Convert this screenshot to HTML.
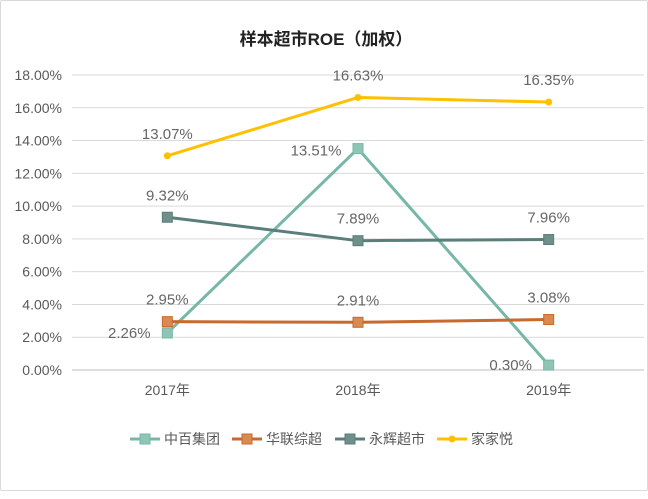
<!DOCTYPE html>
<html><head><meta charset="utf-8"><style>
body{margin:0;background:#fff;}
#wrap{position:relative;width:648px;height:499px;background:#fff;}
#frame{position:absolute;left:0;top:0;width:646px;height:489px;border:1px solid #d9d9d9;border-radius:2px;}
svg{position:absolute;left:0;top:0;}
text{font-family:"Liberation Sans","Noto Sans CJK SC",sans-serif;}
</style></head><body>
<div id="wrap">
<div id="frame"></div>
<svg id="chart" width="648" height="499">
<text x="326" y="45" text-anchor="middle" font-size="17" font-weight="bold" fill="#222">样本超市ROE（加权）</text>
</svg>
</div>
<script>
const categories=["2017年","2018年","2019年"];
const seriesNames=["中百集团","华联综超","永辉超市","家家悦"];
const zhongbai=[2.26,13.51,0.30];
const hualian=[2.95,2.91,3.08];
const yonghui=[9.32,7.89,7.96];
const jiajiayue=[13.07,16.63,16.35];
const yTicks=[0,2,4,6,8,10,12,14,16,18];
const svg=document.getElementById('chart');
const NS='http://www.w3.org/2000/svg';
const x0=72,x1=644,yBase=370,yTop=75,yMax=18;
const xs=i=>x0+(x1-x0)*(i+0.5)/categories.length;
const ys=v=>yBase-(yBase-yTop)*v/yMax;
function mk(t,a){const e=document.createElementNS(NS,t);for(const k in a)e.setAttribute(k,a[k]);svg.appendChild(e);return e;}
yTicks.forEach(t=>{
 const g=mk('line',{x1:x0,x2:x1,y1:ys(t),y2:ys(t),stroke:t===0?'#bfbfbf':'#d9d9d9','stroke-width':1});
 
 
 const l=mk('text',{x:62,y:ys(t)+5,'text-anchor':'end','font-size':14,fill:'#595959'});
 l.textContent=t.toFixed(2)+'%';
 
 
});
categories.forEach((c,i)=>{
 const l=mk('text',{x:xs(i),y:395,'text-anchor':'middle','font-size':14,fill:'#595959'});
 l.textContent=c;
 
 
});
const series=[
 {d:zhongbai,c:'#76b7a8',f:'#8fc5b4',m:'sq',lab:[[-38,0],[-42,2],[-38,0]]},
 {d:hualian,c:'#c8692d',f:'#d88a50',m:'sq',lab:[[0,-22],[0,-22],[0,-22]]},
 {d:yonghui,c:'#5a7f7b',f:'#6f8f8b',m:'sq',lab:[[0,-22],[0,-22],[0,-22]]},
 {d:jiajiayue,c:'#ffc000',f:'#ffc000',m:'dot',lab:[[0,-22],[0,-22],[0,-22]]}
];
series.forEach((s,si)=>{
 const pts=s.d.map((v,i)=>xs(i)+','+ys(v)).join(' ');
 const p=mk('polyline',{points:pts,fill:'none',stroke:s.c,'stroke-width':3,'stroke-linejoin':'round'});
 
 
 s.d.forEach((v,i)=>{
  let m;
  if(s.m==='sq'){m=mk('rect',{x:xs(i)-5,y:ys(v)-5,width:10,height:10,fill:s.f,stroke:s.c,'stroke-width':1});}
  else{m=mk('circle',{cx:xs(i),cy:ys(v),r:3.5,fill:s.f});}
  
  
  const t=mk('text',{x:xs(i)+s.lab[i][0],y:ys(v)+s.lab[i][1]+5,'text-anchor':'middle','font-size':15,fill:'#666'});
  t.textContent=v.toFixed(2)+'%';
  
  
 });
});
const legX=[130,232,335,437];
series.forEach((s,si)=>{
 const lx=legX[si],ly=439;
 const ln=mk('line',{x1:lx,x2:lx+30,y1:ly,y2:ly,stroke:s.c,'stroke-width':3});
 
 
 let m;
 if(s.m==='sq')m=mk('rect',{x:lx+10,y:ly-5,width:10,height:10,fill:s.f,stroke:s.c});
 else m=mk('circle',{cx:lx+15,cy:ly,r:3.5,fill:s.f});
 
 
 const t=mk('text',{x:lx+34,y:ly+5,'font-size':14,fill:'#595959'});
 t.textContent=seriesNames[si];
 
 
});
</script>
</body></html>
